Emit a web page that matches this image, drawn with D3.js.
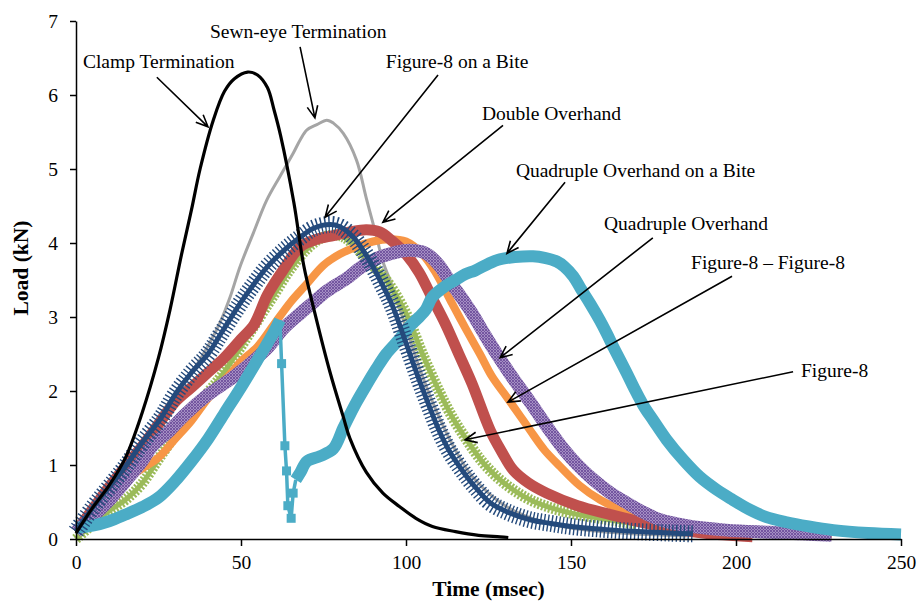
<!DOCTYPE html>
<html>
<head>
<meta charset="utf-8">
<script src="https://cdn.jsdelivr.net/npm/d3@7"></script>
<style>
  body { margin: 0; background: #fff; }
  text { font-family: "Liberation Serif", "Times New Roman", serif; }
</style>
</head>
<body>
<div id="chart"></div>
<script>
const w = 917
const h = 602
const margin = { top: 21, right: 16, bottom: 63, left: 76 }

// Series data: [time msec, load kN]
const clampTermination = [[0,0.08],[5,0.42],[10,0.72],[15,1.1],[20,1.7],[25,2.45],[28.5,3.1],[32,3.85],[35,4.45],[37.6,5.0],[41.6,5.66],[45,6.05],[48,6.22],[52,6.31],[55,6.27],[58,6.1],[60,5.8],[62,5.45],[66,4.55],[69,3.7],[72.4,3.05],[77,2.25],[81,1.65],[83,1.36],[88,0.9],[93,0.62],[98,0.44],[103,0.28],[108,0.17],[115,0.1],[122,0.05],[128.5,0.03],[131,0.02]]
const sewnEye = [[0,0.1],[5,0.35],[10,0.65],[15,0.95],[20,1.3],[25,1.65],[30,1.95],[35,2.25],[38.6,2.5],[43.6,2.92],[46.7,3.27],[49.7,3.68],[53.7,4.13],[57.8,4.58],[61.8,4.9],[65.9,5.22],[68,5.4],[70,5.53],[73,5.6],[76,5.66],[78,5.62],[81,5.48],[85,5.12],[88,4.6],[91,4.1],[93,3.75],[96,3.4],[100,2.85],[105,2.2],[110,1.65],[115,1.2],[120,0.85],[130,0.45],[140,0.25],[150,0.15],[165,0.08],[185,0.04]]
const figure8 = [[0,0],[5,0.2],[10,0.38],[15,0.53],[20,0.75],[25,1.08],[30,1.4],[35,1.7],[40,1.98],[44,2.2],[50,2.6],[55,2.95],[60,3.3],[65,3.65],[70,3.92],[75,4.08],[80,4.1],[84,3.98],[88,3.78],[94,3.5],[100,3.05],[105,2.5],[110,2.0],[114,1.65],[118.4,1.34],[123,1.05],[127.5,0.84],[132,0.68],[137.6,0.53],[144,0.42],[150,0.35],[160,0.27],[170,0.2]]
const quadOverhand = [[0,0.1],[5,0.35],[10,0.6],[15,0.8],[20,0.95],[25,1.1],[30,1.35],[35,1.6],[40,1.9],[47.7,2.28],[50,2.4],[55,2.6],[60,2.9],[65,3.2],[70,3.45],[75,3.7],[80,3.85],[85,3.95],[90,4.02],[95,4.05],[100,4.02],[105,3.85],[109,3.6],[114,3.18],[118,2.85],[122.4,2.5],[126,2.2],[130.5,1.92],[134,1.7],[137.6,1.47],[142,1.2],[146.7,0.98],[152.7,0.72],[158.8,0.53],[165,0.4],[171.8,0.3],[180,0.22],[190,0.16],[200,0.11],[215,0.07],[229,0.05]]
const doubleOverhand = [[0,0.1],[5,0.4],[10,0.7],[15,0.98],[20,1.25],[25,1.55],[30,1.85],[35,2.05],[40,2.25],[45,2.45],[50,2.7],[54,2.9],[58,3.3],[63,3.65],[68,3.95],[73,4.05],[78,4.1],[83,4.15],[88,4.18],[92,4.15],[96,4.02],[100,3.85],[104,3.6],[108,3.25],[112,2.9],[116,2.5],[120,2.1],[125.5,1.47],[129,1.18],[132.5,0.93],[137,0.76],[142.6,0.62],[152,0.45],[162,0.33],[170,0.24],[177,0.17],[190,0.08],[205,0.03]]
const quadOverhandBite = [[0,0.1],[5,0.3],[10,0.52],[15,0.78],[20,1.05],[23,1.25],[28,1.45],[33,1.68],[40,1.95],[47.7,2.19],[53,2.38],[58,2.58],[63,2.85],[68,3.05],[72,3.2],[76,3.35],[82,3.52],[86,3.66],[90,3.77],[95,3.85],[100,3.9],[106,3.86],[110,3.7],[113,3.5],[117,3.25],[120,3.05],[124,2.75],[127.5,2.5],[132,2.2],[137.6,1.85],[143,1.5],[148,1.2],[152,1.0],[156.8,0.8],[162,0.62],[166.8,0.49],[172,0.36],[177,0.26],[185,0.18],[197,0.12],[210,0.09],[220,0.07],[229,0.05]]
const figure8Figure8Rise = [[0,0.15],[5,0.18],[10,0.24],[15,0.33],[20,0.43],[25,0.56],[30,0.78],[35,1.05],[40,1.35],[45,1.7],[50,2.05],[55,2.42],[60,2.8],[61.8,2.96]]
const figure8Figure8Drop = [[61.8,2.96],[62.3,2.37],[63.3,1.26],[63.8,0.92],[64.2,0.45],[65.2,0.28],[65.8,0.62],[66.6,0.8]]
const figure8Figure8Main = [[66.6,0.8],[68,0.9],[70,1.05],[74,1.12],[78,1.22],[81,1.5],[83,1.68],[85,1.85],[88,2.08],[91,2.3],[94,2.5],[98,2.7],[101,2.87],[104,3.0],[106,3.1],[108,3.27],[112,3.42],[115,3.5],[118,3.58],[121,3.63],[125,3.72],[128.5,3.78],[133,3.81],[138.5,3.82],[142,3.8],[145.7,3.75],[148,3.68],[150.7,3.55],[153,3.38],[155.8,3.18],[158.8,2.95],[160.8,2.78],[163,2.58],[166.8,2.25],[169,2.05],[172,1.8],[175,1.6],[179,1.34],[184,1.07],[189,0.84],[194,0.67],[199,0.53],[204,0.4],[209,0.3],[215,0.23],[222,0.17],[229.5,0.12],[240,0.08],[250,0.06]]
const figure8OnBite = [[0,0.1],[5,0.42],[10,0.7],[15,0.98],[20,1.3],[26,1.65],[30,1.95],[35,2.25],[40,2.5],[44,2.78],[50,3.2],[54,3.45],[58,3.68],[63,3.9],[68,4.08],[72,4.2],[77,4.25],[80,4.22],[84,4.08],[87,3.9],[90,3.68],[93,3.42],[96,3.14],[100,2.65],[104,2.15],[107,1.8],[110,1.47],[113,1.2],[117,0.93],[121,0.7],[125.5,0.49],[131,0.36],[137.6,0.26],[144,0.21],[150,0.17],[160,0.13],[170,0.1],[180,0.08],[187,0.07]]

const xTicks = [0, 50, 100, 150, 200, 250]
const yTicks = [0, 1, 2, 3, 4, 5, 6, 7]

// Callout labels: text position and arrow (start -> tip), all in data units
const labelTexts = ["Clamp Termination", "Sewn-eye Termination", "Figure-8 on a Bite", "Double Overhand", "Quadruple Overhand on a Bite", "Quadruple Overhand", "Figure-8 \u2013 Figure-8", "Figure-8"]
const labelAt = [[2.1,6.36],[40.6,6.77],[93.9,6.36],[123,5.66],[133.3,4.89],[160,4.18],[186.4,3.65],[219.7,2.19]]
const arrowFrom = [[24.5,6.24],[67.9,6.65],[109.7,6.27],[129.4,5.59],[148.2,4.82],[174.8,4.07],[198.8,3.55],[217.3,2.26]]
const arrowTo = [[40,5.57],[72.4,5.69],[75.5,4.35],[93,4.28],[130.6,3.86],[128.5,2.45],[130.9,1.85],[117.9,1.34]]

const svg = d3.select("#chart")
  .append("svg")
    .attr("width", w)
    .attr("height", h)

const x = d3.scaleLinear().domain([0, 250]).range([margin.left, w - margin.right])
const y = d3.scaleLinear().domain([0, 7]).range([h - margin.bottom, margin.top])

// hatch pattern for the purple markers
const defs = svg.append("defs")
const pat = defs.append("pattern")
  .attr("id", "hatch")
  .attr("patternUnits", "userSpaceOnUse")
  .attr("width", 3).attr("height", 3)
pat.append("rect").attr("width", 3).attr("height", 3).attr("fill", "#a58fc4")
pat.append("path").attr("d", "M0,0 L3,3 M3,0 L0,3").attr("stroke", "#6e4f9c").attr("stroke-width", 0.9)

const line = d3.line()
  .x(d => x(d[0]))
  .y(d => y(d[1]))
  .curve(d3.curveCatmullRom)

const drawBand = (data, layers) => {
  layers.forEach(l => {
    svg.append("path")
      .datum(data)
      .attr("d", line)
      .attr("fill", "none")
      .attr("stroke", l.color)
      .attr("stroke-width", l.width)
      .attr("stroke-linejoin", "round")
      .attr("stroke-dasharray", l.dash || null)
  })
}

// drawing order, bottom to top
drawBand(sewnEye, [{ color: "#a5a5a5", width: 3 }])
drawBand(figure8, [{ color: "#9bbb59", width: 11, dash: "2 1.6" }, { color: "#9bbb59", width: 5 }])
drawBand(quadOverhand, [{ color: "#f79646", width: 8 }])
drawBand(doubleOverhand, [{ color: "#c0504d", width: 11 }])
drawBand(quadOverhandBite, [{ color: "url(#hatch)", width: 13 }])
drawBand(figure8Figure8Rise, [{ color: "#4bacc6", width: 12 }])
drawBand(figure8Figure8Main, [{ color: "#4bacc6", width: 12 }])

svg.append("path")
  .datum(figure8Figure8Drop)
  .attr("d", d3.line().x(d => x(d[0])).y(d => y(d[1])))
  .attr("fill", "none")
  .attr("stroke", "#4bacc6")
  .attr("stroke-width", 3.5)
svg.selectAll(".sq")
  .data(figure8Figure8Drop.slice(1, -1))
  .join("rect")
    .attr("x", d => x(d[0]) - 4.5)
    .attr("y", d => y(d[1]) - 4.5)
    .attr("width", 9)
    .attr("height", 9)
    .attr("fill", "#4bacc6")

drawBand(figure8OnBite, [{ color: "#244a7c", width: 17, dash: "1.4 2.4" }, { color: "#244a7c", width: 5 }])
drawBand(clampTermination, [{ color: "#000", width: 3.2 }])

// axes
const xAxis = svg.append("g")
  .attr("transform", `translate(0,${y(0)})`)
  .call(d3.axisBottom(x).tickValues(xTicks).tickSize(7).tickSizeOuter(0).tickPadding(9))
const yAxis = svg.append("g")
  .attr("transform", `translate(${x(0)},0)`)
  .call(d3.axisLeft(y).tickValues(yTicks).tickFormat(d3.format("d")).tickSize(6).tickSizeOuter(0).tickPadding(12))

;[xAxis, yAxis].forEach(g => {
  g.selectAll("path, line").attr("stroke", "#000").attr("stroke-width", 1.5)
  g.selectAll("text")
    .attr("fill", "#000")
    .style("font-family", "'Liberation Serif', serif")
    .style("font-size", "19.5px")
})

svg.append("text")
  .attr("x", (x(0) + x(250)) / 2)
  .attr("y", 596)
  .attr("text-anchor", "middle")
  .style("font-size", "21.5px")
  .style("font-weight", "bold")
  .text("Time (msec)")

svg.append("text")
  .attr("transform", `translate(28,${(y(0) + y(7)) / 2 - 12}) rotate(-90)`)
  .attr("text-anchor", "middle")
  .style("font-size", "21.5px")
  .style("font-weight", "bold")
  .text("Load (kN)")

// callouts
const drawArrow = (from, to) => {
  const x1 = x(from[0]), y1 = y(from[1]), x2 = x(to[0]), y2 = y(to[1])
  const ang = Math.atan2(y2 - y1, x2 - x1)
  const len = 13, spread = 0.42
  const p1 = [x2 - len * Math.cos(ang - spread), y2 - len * Math.sin(ang - spread)]
  const p2 = [x2 - len * Math.cos(ang + spread), y2 - len * Math.sin(ang + spread)]
  svg.append("path")
    .attr("d", `M${x1},${y1}L${x2},${y2}M${p1[0]},${p1[1]}L${x2},${y2}L${p2[0]},${p2[1]}`)
    .attr("fill", "none")
    .attr("stroke", "#000")
    .attr("stroke-width", 1.6)
}

labelTexts.forEach((t, i) => {
  svg.append("text")
    .attr("x", x(labelAt[i][0]))
    .attr("y", y(labelAt[i][1]))
    .style("font-size", "19.5px")
    .attr("fill", "#000")
    .text(t)
  drawArrow(arrowFrom[i], arrowTo[i])
})
</script>
</body>
</html>
